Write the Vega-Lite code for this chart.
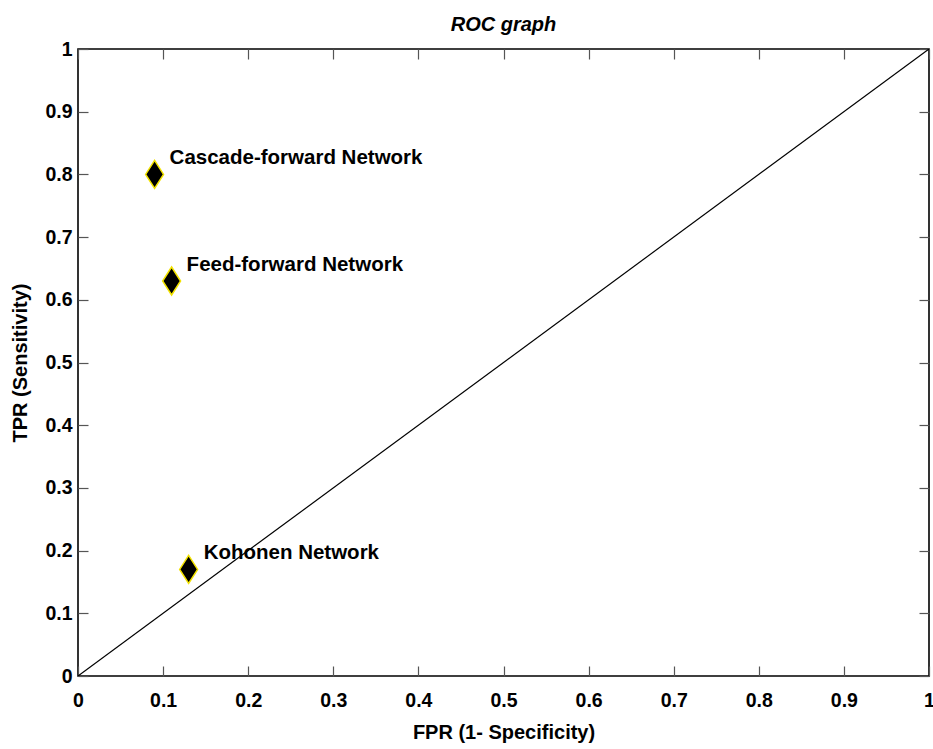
{
  "$schema": "https://vega.github.io/schema/vega-lite/v6.json",
  "autosize": "none",
  "width": 851,
  "height": 627,
  "padding": {"left": 78, "top": 49, "right": 4, "bottom": 73},
  "background": "white",
  "config": {
    "view": {"stroke": "black", "strokeWidth": 1.6},
    "font": "Liberation Sans",
    "axis": {
      "grid": false,
      "ticks": true,
      "domain": false,
      "offset": -10,
      "tickColor": "#555555",
      "tickWidth": 1.2,
      "tickSize": 10,
      "labelFont": "Liberation Sans",
      "labelFontWeight": "bold",
      "labelFontSize": 19.5,
      "labelColor": "black",
      "titleFont": "Liberation Sans",
      "titleFontWeight": "bold",
      "titleFontSize": 20,
      "titleColor": "black",
      "format": "~g"
    }
  },
  "title": {
    "text": "ROC graph",
    "font": "Liberation Sans",
    "fontSize": 20,
    "fontWeight": "bold",
    "fontStyle": "italic",
    "color": "black",
    "anchor": "middle",
    "baseline": "bottom",
    "offset": 14,
    "dy": 30
  },
  "datasets": {
    "pts": [
      {"fpr": 0.09, "tpr": 0.80, "label": "Cascade-forward Network"},
      {"fpr": 0.11, "tpr": 0.63, "label": "Feed-forward  Network"},
      {"fpr": 0.13, "tpr": 0.17, "label": "Kohonen Network"}
    ],
    "diag": [
      {"fpr": 0, "tpr": 0},
      {"fpr": 1, "tpr": 1}
    ]
  },
  "layer": [
    {
      "data": {"name": "diag"},
      "mark": {"type": "line", "color": "black", "strokeWidth": 1.2, "clip": true},
      "encoding": {
        "x": {"field": "fpr", "type": "quantitative", "scale": {"domain": [0, 1], "nice": false, "zero": false},
              "axis": {"orient": "bottom", "title": "FPR (1- Specificity)", "values": [0,0.1,0.2,0.3,0.4,0.5,0.6,0.7,0.8,0.9,1], "labelPadding": 15, "titlePadding": 13, "labelFlush": false, "labelOverlap": false}},
        "y": {"field": "tpr", "type": "quantitative", "scale": {"domain": [0, 1], "nice": false, "zero": false},
              "axis": {"orient": "left", "title": "TPR (Sensitivity)", "values": [0,0.1,0.2,0.3,0.4,0.5,0.6,0.7,0.8,0.9,1], "labelPadding": 6, "titlePadding": 14, "labelFlush": false, "labelOverlap": false}}
      }
    },
    {
      "data": {"name": "pts"},
      "mark": {"type": "point", "shape": "M0,-1L0.64,0L0,1L-0.64,0Z", "size": 784, "filled": true, "fill": "black", "stroke": "#f2e200", "strokeWidth": 1.5, "opacity": 1},
      "encoding": {
        "x": {"field": "fpr", "type": "quantitative",
              "axis": {"orient": "top", "labels": false, "title": null, "values": [0,0.1,0.2,0.3,0.4,0.5,0.6,0.7,0.8,0.9,1]}},
        "y": {"field": "tpr", "type": "quantitative",
              "axis": {"orient": "right", "labels": false, "title": null, "values": [0,0.1,0.2,0.3,0.4,0.5,0.6,0.7,0.8,0.9,1]}}
      }
    },
    {
      "data": {"name": "pts"},
      "mark": {"type": "text", "align": "left", "baseline": "alphabetic", "dx": 15, "dy": -10, "font": "Liberation Sans", "fontSize": 20.5, "fontWeight": "bold", "color": "black"},
      "encoding": {
        "x": {"field": "fpr", "type": "quantitative", "axis": null},
        "y": {"field": "tpr", "type": "quantitative", "axis": null},
        "text": {"field": "label"}
      }
    }
  ],
  "resolve": {"axis": {"x": "independent", "y": "independent"}}
}
